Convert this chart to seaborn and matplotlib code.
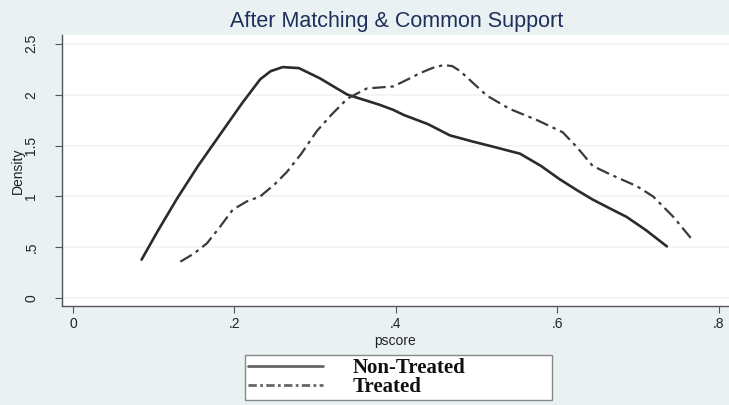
import matplotlib
matplotlib.use("Agg")
import matplotlib.pyplot as plt
import seaborn as sns
import pandas as pd
from matplotlib.lines import Line2D

# Data (pscore, density)
nt_x = [0.085, 0.105, 0.129, 0.155, 0.186, 0.210, 0.232, 0.245, 0.260, 0.280,
        0.306, 0.325, 0.340, 0.356, 0.380, 0.397, 0.410, 0.440, 0.467, 0.495,
        0.520, 0.554, 0.580, 0.603, 0.625, 0.644, 0.666, 0.686, 0.710, 0.736]
nt_y = [0.38, 0.66, 0.98, 1.30, 1.65, 1.92, 2.15, 2.23, 2.27, 2.26,
        2.16, 2.07, 2.00, 1.96, 1.90, 1.85, 1.80, 1.71, 1.60, 1.54,
        1.49, 1.42, 1.30, 1.17, 1.06, 0.97, 0.88, 0.80, 0.67, 0.51]

tr_x = [0.133, 0.150, 0.166, 0.182, 0.198, 0.215, 0.232, 0.250, 0.265, 0.283,
        0.302, 0.320, 0.340, 0.364, 0.380, 0.397, 0.415, 0.430, 0.445, 0.459,
        0.470, 0.480, 0.495, 0.513, 0.541, 0.575, 0.607, 0.625, 0.644, 0.665,
        0.699, 0.719, 0.744, 0.768]
tr_y = [0.36, 0.44, 0.54, 0.70, 0.87, 0.95, 1.00, 1.12, 1.24, 1.42,
        1.64, 1.80, 1.96, 2.06, 2.07, 2.08, 2.15, 2.21, 2.26, 2.29,
        2.28, 2.23, 2.12, 1.99, 1.86, 1.75, 1.63, 1.48, 1.30, 1.22,
        1.10, 1.00, 0.80, 0.57]

x_ticks = [0, 0.2, 0.4, 0.6, 0.8]
x_tick_labels = ["0", ".2", ".4", ".6", ".8"]
y_ticks = [0, 0.5, 1, 1.5, 2, 2.5]
y_tick_labels = ["0", ".5", "1", "1.5", "2", "2.5"]
series_names = ["Non-Treated", "Treated"]

bg = "#E9F1F3"
sns.set_theme(style="white")
plt.rcParams["font.family"] = ["Liberation Sans", "DejaVu Sans"]

fig = plt.figure(figsize=(7.29, 4.05), dpi=100, facecolor=bg)
ax = fig.add_axes([62 / 729, 1 - 306 / 405, (729 - 62) / 729, (306 - 35) / 405])
ax.set_facecolor("white")

df_nt = pd.DataFrame({"pscore": nt_x, "density": nt_y})
df_tr = pd.DataFrame({"pscore": tr_x, "density": tr_y})

sns.lineplot(data=df_nt, x="pscore", y="density", ax=ax, sort=False,
             color="#2b2b2b", linewidth=1.9, estimator=None)
sns.lineplot(data=df_tr, x="pscore", y="density", ax=ax, sort=False,
             color="#3a3a3a", linewidth=1.6, estimator=None,
             linestyle=(0, (6, 2.2, 1.5, 2.2)))

ax.set_xlim(-0.0136, 0.813)
ax.set_ylim(-0.075, 2.585)
ax.set_xticks(x_ticks)
ax.set_xticklabels(x_tick_labels)
ax.set_yticks(y_ticks)
ax.set_yticklabels(y_tick_labels, rotation=90, va="center")
ax.tick_params(axis="both", direction="out", length=5, width=0.8,
               colors="#555555", labelsize=10, labelcolor="#222222")
ax.tick_params(axis="y", pad=12)
ax.tick_params(axis="x", pad=3)
ax.tick_params(axis="both", which="both", bottom=True, left=True)
ax.grid(axis="y", color="#EEF4F5", linewidth=1.2)
ax.set_axisbelow(True)
for side in ["top", "right"]:
    ax.spines[side].set_visible(False)
for side in ["left", "bottom"]:
    ax.spines[side].set_color("#555555")
    ax.spines[side].set_linewidth(1.0)

ax.set_xlabel("pscore", fontsize=10, color="#222222", labelpad=2)
ax.set_ylabel("Density", fontsize=10, color="#222222", labelpad=0)

fig.text(397 / 729, 1 - 27 / 405, "After Matching & Common Support",
         ha="center", va="baseline", fontsize=15.5, color="#1E2F5A")

handles = [
    Line2D([], [], color="#666666", linewidth=2.0),
    Line2D([], [], color="#666666", linewidth=2.0, linestyle=(0, (3, 1.2, 1, 1.2))),
]
leg = fig.legend(handles, series_names, loc="upper left",
                 bbox_to_anchor=(245 / 729, 1 - 355 / 405, (552 - 245) / 729, 0),
                 mode="expand",
                 frameon=True, fancybox=False, framealpha=1.0,
                 borderpad=0.15, borderaxespad=0.0,
                 handlelength=3.6, handletextpad=1.4, labelspacing=-0.05,
                 prop={"family": "Liberation Serif", "weight": "bold", "size": 15})
leg.get_frame().set_edgecolor("#888888")
leg.get_frame().set_linewidth(1.0)
leg.get_frame().set_facecolor("white")
for t in leg.get_texts():
    t.set_color("#111111")

fig.savefig("out.png", dpi=100, facecolor=bg)
